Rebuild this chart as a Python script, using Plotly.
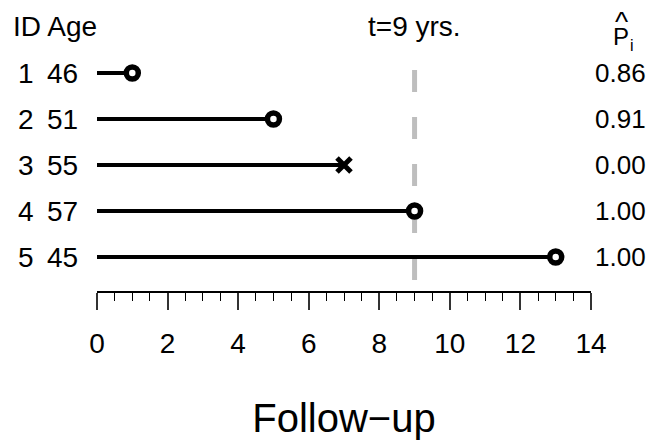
import plotly.graph_objects as go

ids = ["1", "2", "3", "4", "5"]
ages = ["46", "51", "55", "57", "45"]
followup = [1, 5, 7, 9, 13]
event = [False, False, True, False, False]  # True = event (x), False = censored (o)
phat = ["0.86", "0.91", "0.00", "1.00", "1.00"]
t_star = 9
t_label = "t=9 yrs."
xticks = [0, 2, 4, 6, 8, 10, 12, 14]

W, H = 653, 440
L, R, T, B = 97, 62, 50, 149  # plot area 97..591 x, 50..291 y
FONT = "Liberation Sans, Arial, Helvetica, sans-serif"
FS = 28

rows = list(range(1, len(ids) + 1))
fig = go.Figure()

# dashed reference line at t
fig.add_trace(go.Scatter(x=[t_star, t_star], y=[0.935, 5.565], mode="lines",
                         line=dict(color="#BEBEBE", width=5, dash="22px,25px"),
                         hoverinfo="skip", showlegend=False))

for r, f in zip(rows, followup):
    fig.add_trace(go.Scatter(x=[0, f], y=[r, r], mode="lines",
                             line=dict(color="black", width=4),
                             hoverinfo="skip", showlegend=False))

cx = [f for f, e in zip(followup, event) if not e]
cy = [r for r, e in zip(rows, event) if not e]
ex = [f for f, e in zip(followup, event) if e]
ey = [r for r, e in zip(rows, event) if e]
fig.add_trace(go.Scatter(x=cx, y=cy, mode="markers",
                         marker=dict(symbol="circle", size=12, color="white",
                                     line=dict(color="black", width=5.5)),
                         cliponaxis=False, showlegend=False))
fig.add_trace(go.Scatter(x=ex, y=ey, mode="markers",
                         marker=dict(symbol="x-thin", size=14,
                                     line=dict(color="black", width=5)),
                         cliponaxis=False, showlegend=False))

PH = H - T - B

def px(xp):
    return (xp - L) / (W - L - R)

def py(yp):
    return 1 + (T - yp) / PH

def txt(x, y, s, size=FS, xref="paper", yref="paper"):
    return dict(x=x, y=y, xref=xref, yref=yref, text=s, xanchor="center",
                yanchor="middle", showarrow=False, borderpad=0,
                font=dict(family=FONT, size=size, color="black"))

ann = []
a = txt(px(12), py(27), "ID Age")
a["xanchor"] = "left"
ann.append(a)
for r, i, ag, p in zip(rows, ids, ages, phat):
    ann.append(txt(px(26), r, i, yref="y"))
    ann.append(txt(px(62), r, ag, yref="y"))
    ann.append(txt(px(620), r, p, size=26, yref="y"))

ann.append(txt(t_star, py(27), t_label, xref="x"))
ann.append(txt(px(621), py(37), "P", size=24))
ann.append(txt(px(632), py(45), "i", size=16))
ann.append(txt(px(621), py(22), "^", size=28))

fig.update_layout(
    width=W, height=H, margin=dict(l=L, r=R, t=T, b=B, autoexpand=False),
    paper_bgcolor="white", plot_bgcolor="white",
    annotations=ann,
    xaxis=dict(range=[0, 14], tickmode="array", tickvals=xticks,
               ticktext=[str(v) for v in xticks], automargin=False,
               showline=True, linecolor="black", linewidth=1.5,
               ticks="outside", ticklen=17, tickwidth=1.5, tickcolor="#333",
               ticklabelstandoff=10,
               minor=dict(dtick=0.5, ticks="outside", ticklen=8, tickwidth=1.3, tickcolor="black"),
               showgrid=False, zeroline=False,
               tickfont=dict(family=FONT, size=FS, color="black"),
               title=dict(text="Follow\u2212up", font=dict(family=FONT, size=40, color="black"),
                          standoff=46)),
    yaxis=dict(range=[5.739, 0.5], visible=False, showgrid=False, zeroline=False),
)

fig.write_html("out.html")
